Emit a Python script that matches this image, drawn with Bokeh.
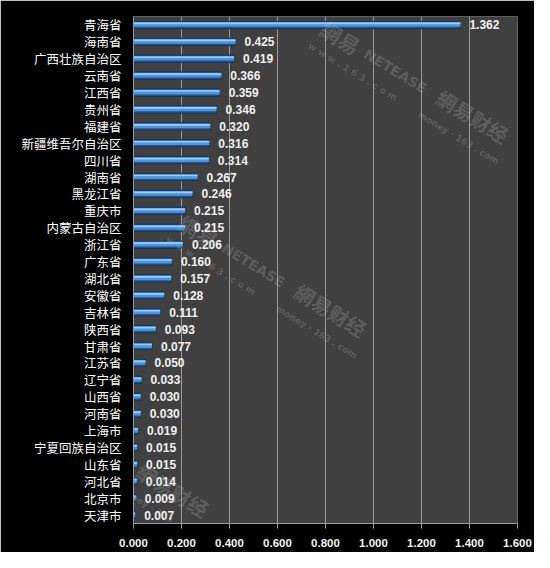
import math
from bokeh.plotting import figure
from bokeh.models import ColumnDataSource, FactorRange, Range1d, FixedTicker, NumeralTickFormatter, Label
from bokeh.transform import dodge
from bokeh.embed import file_html
from bokeh.resources import INLINE

provinces = ["青海省", "海南省", "广西壮族自治区", "云南省", "江西省", "贵州省", "福建省",
             "新疆维吾尔自治区", "四川省", "湖南省", "黑龙江省", "重庆市", "内蒙古自治区",
             "浙江省", "广东省", "湖北省", "安徽省", "吉林省", "陕西省", "甘肃省", "江苏省",
             "辽宁省", "山西省", "河南省", "上海市", "宁夏回族自治区", "山东省", "河北省",
             "北京市", "天津市"]
values = [1.362, 0.425, 0.419, 0.366, 0.359, 0.346, 0.320, 0.316, 0.314, 0.267, 0.246,
          0.215, 0.215, 0.206, 0.160, 0.157, 0.128, 0.111, 0.093, 0.077, 0.050, 0.033,
          0.030, 0.030, 0.019, 0.015, 0.015, 0.014, 0.009, 0.007]
x_ticks = [0.0, 0.2, 0.4, 0.6, 0.8, 1.0, 1.2, 1.4, 1.6]

labels = ["%.3f" % v for v in values]
src = ColumnDataSource(dict(y=provinces, v=values, lab=labels))

W, H = 534, 552
L, R, T, B = 133, 17, 16, 29

p = figure(width=W, height=H, output_backend="svg", toolbar_location=None,
           y_range=FactorRange(*reversed(provinces)), x_range=Range1d(0, 1.6),
           min_border_left=L, min_border_right=R, min_border_top=T, min_border_bottom=B)
p.background_fill_color = "#404040"
p.border_fill_color = "#000000"
p.outline_line_color = None

# watermarks (screen position relative to frame)
ang = -0.55
d = (math.cos(-ang), math.sin(-ang))        # direction in screen coords (y down)
n = (-d[1], d[0])                            # perpendicular, downward


def wm(X, Y, text, size, font, alpha=0.22):
    p.add_layout(Label(x=X - L, y=(H - B) - Y, x_units="screen", y_units="screen",
                       text=text, text_color="#c8c8c8", text_alpha=alpha, angle=ang,
                       text_align="left", text_baseline="middle",
                       text_font_size=size, text_font=font, text_font_style="bold"))


def cluster(ox, oy, full=True):
    def at(a, b):
        return ox + a * d[0] + b * n[0], oy + a * d[1] + b * n[1]
    if full:
        wm(*at(0, 0), "網易", "21px", "Noto Sans CJK TC")
        wm(*at(50, 0), "NETEASE", "14px", "DejaVu Sans")
        wm(*at(-2, 23), "w w w . 1 6 3 . c o m", "9px", "DejaVu Sans")
    wm(*at(135, -2), "網易财经", "20px", "Noto Sans CJK TC")
    wm(*at(128, 24), "money · 163 . com", "9px", "DejaVu Sans")


cluster(322, 26)
cluster(180, 220)
cluster(22, 400, full=False)

# bars with a simple 3D-like shading
p.hbar(y="y", right="v", left=0, height=0.44, source=src,
       fill_color="#23528f", line_color="#16365f", line_width=1)
p.hbar(y=dodge("y", 0.03, range=p.y_range), right="v", left=0, height=0.28, source=src,
       fill_color="#4f93d8", line_color=None)
p.hbar(y=dodge("y", 0.09, range=p.y_range), right="v", left=0, height=0.1, source=src,
       fill_color="#9ccbf5", line_color=None)

p.text(x="v", y="y", text="lab", source=src, x_offset=9, text_align="left",
       text_baseline="middle", text_color="#f2f2f2", text_font_size="12px",
       text_font_style="bold", text_font={"value": "Liberation Sans"})

p.xgrid.ticker = FixedTicker(ticks=x_ticks)
p.xgrid.grid_line_color = "#9a9a9a"
p.xgrid.grid_line_width = 1
p.ygrid.grid_line_color = None

p.xaxis.ticker = FixedTicker(ticks=x_ticks)
p.xaxis.formatter = NumeralTickFormatter(format="0.000")
p.xaxis.major_label_text_color = "#f2f2f2"
p.xaxis.major_label_text_font = "Liberation Sans"
p.xaxis.major_label_text_font_style = "bold"
p.xaxis.major_label_text_font_size = "11.5px"
p.xaxis.major_label_standoff = 10
p.xaxis.major_tick_out = 5
p.xaxis.major_tick_in = 0
p.xaxis.minor_tick_line_color = None

p.yaxis.major_label_text_color = "#ffffff"
p.yaxis.major_label_text_font = "Noto Sans CJK SC"
p.yaxis.major_label_text_font_size = "12.5px"
p.yaxis.major_label_standoff = 12
p.yaxis.major_tick_out = 0
p.yaxis.major_tick_in = 0

for ax in (p.xaxis, p.yaxis):
    ax.axis_line_color = "#9a9a9a"
    ax.major_tick_line_color = "#9a9a9a"

open("out.html", "w").write(file_html(p, INLINE))
